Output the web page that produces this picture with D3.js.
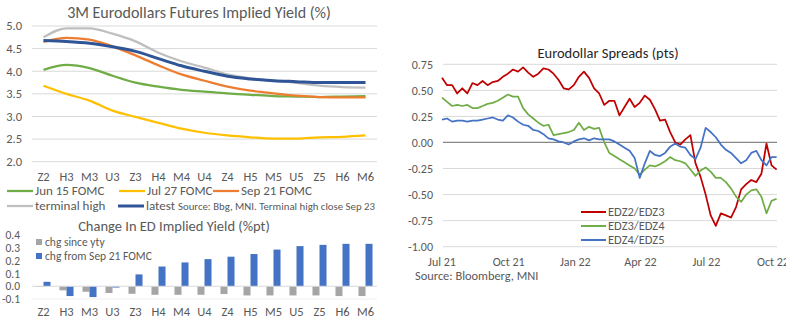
<!DOCTYPE html>
<html>
<head>
<meta charset="utf-8">
<script src="https://cdn.jsdelivr.net/npm/d3@7"></script>
<style>
  body { margin: 0; background: #fff; }
  svg text { font-family: Carlito, Lato, "Open Sans", sans-serif; }
</style>
</head>
<body>
<svg id="chart" width="786" height="323"></svg>
<script>
// contracts on the strip
const contracts = ['Z2', 'H3', 'M3', 'U3', 'Z3', 'H4', 'M4', 'U4', 'Z4', 'H5', 'M5', 'U5', 'Z5', 'H6', 'M6'];

// implied yields (%)
const jun15 = [4.03, 4.14, 4.07, 3.90, 3.75, 3.66, 3.59, 3.55, 3.51, 3.48, 3.45, 3.44, 3.43, 3.44, 3.45];
const jul27 = [3.68, 3.50, 3.35, 3.13, 2.99, 2.86, 2.73, 2.64, 2.58, 2.54, 2.51, 2.51, 2.54, 2.55, 2.58];
const sep21 = [4.65, 4.74, 4.70, 4.55, 4.35, 4.13, 3.93, 3.79, 3.66, 3.57, 3.51, 3.46, 3.43, 3.42, 3.42];
const termHigh = [4.75, 4.95, 4.95, 4.83, 4.66, 4.41, 4.22, 4.08, 3.93, 3.84, 3.79, 3.74, 3.68, 3.65, 3.64];
const latest = [4.68, 4.66, 4.62, 4.54, 4.44, 4.28, 4.12, 4.00, 3.89, 3.83, 3.79, 3.77, 3.75, 3.75, 3.75];
const yieldTicks = [2.0, 2.5, 3.0, 3.5, 4.0, 4.5, 5.0];

// changes (%pt)
const chgYty = [-0.005, -0.032, -0.043, -0.053, -0.059, -0.067, -0.067, -0.067, -0.061, -0.072, -0.072, -0.072, -0.072, -0.077, -0.077];
const chgFomc = [0.035, -0.077, -0.085, -0.010, 0.093, 0.155, 0.187, 0.213, 0.232, 0.253, 0.288, 0.315, 0.325, 0.333, 0.333];
const chgTicks = [-0.1, 0.0, 0.1, 0.2, 0.3, 0.4];

// weekly spread closes (pts), first week Jul 1 2021
const spreadStart = new Date(2021, 6, 1);
const edz2z3 = [
  0.62, 0.55, 0.55, 0.47, 0.52, 0.47, 0.57, 0.55, 0.59, 0.55,
  0.58, 0.59, 0.63, 0.66, 0.70, 0.68, 0.72, 0.67, 0.63, 0.66,
  0.71, 0.70, 0.66, 0.60, 0.52, 0.51, 0.55, 0.63, 0.68, 0.62,
  0.52, 0.47, 0.36, 0.40, 0.40, 0.26, 0.34, 0.42, 0.34, 0.38,
  0.45, 0.41, 0.32, 0.21, 0.22, 0.10, 0.00, -0.02, 0.03, 0.07,
  -0.20, -0.33, -0.50, -0.70, -0.80, -0.68, -0.70, -0.72, -0.62, -0.45,
  -0.40, -0.36, -0.38, -0.30, -0.01, -0.22, -0.26];
const edz3z4 = [
  0.43, 0.39, 0.35, 0.36, 0.35, 0.36, 0.33, 0.33, 0.35, 0.37,
  0.38, 0.40, 0.43, 0.46, 0.44, 0.44, 0.33, 0.27, 0.23, 0.19,
  0.16, 0.17, 0.07, 0.08, 0.09, 0.10, 0.12, 0.19, 0.12, 0.15,
  0.13, 0.14, 0.00, -0.10, -0.13, -0.16, -0.19, -0.22, -0.25, -0.31,
  -0.26, -0.22, -0.23, -0.21, -0.18, -0.14, -0.17, -0.18, -0.20, -0.26,
  -0.32, -0.27, -0.24, -0.28, -0.34, -0.34, -0.38, -0.44, -0.52, -0.57,
  -0.50, -0.46, -0.45, -0.52, -0.68, -0.56, -0.54];
const edz4z5 = [
  0.22, 0.23, 0.20, 0.21, 0.21, 0.20, 0.21, 0.21, 0.22, 0.23,
  0.24, 0.22, 0.21, 0.26, 0.24, 0.20, 0.17, 0.16, 0.12, 0.11,
  0.08, 0.04, 0.03, 0.01, 0.00, -0.02, 0.01, 0.03, 0.04, 0.02,
  0.04, 0.03, 0.03, 0.03, 0.01, -0.02, -0.05, -0.08, -0.15, -0.34,
  -0.20, -0.08, -0.12, -0.13, -0.10, -0.04, -0.01, -0.04, -0.05, -0.12,
  -0.16, -0.05, 0.14, 0.10, 0.05, -0.02, -0.07, -0.10, -0.15, -0.20,
  -0.17, -0.10, -0.08, -0.17, -0.22, -0.14, -0.14];
const spreadTicks = [-1.0, -0.75, -0.5, -0.25, 0, 0.25, 0.5, 0.75];
const monthTicks = [new Date(2021, 6, 1), new Date(2021, 9, 1), new Date(2022, 0, 1),
                    new Date(2022, 3, 1), new Date(2022, 6, 1), new Date(2022, 9, 1)];

const svg = d3.select('#chart');
const grey = '#595959';
const grid = '#d9d9d9';
const hyphen = f => v => f(v).replace('−', '-');

// ---------- top left: implied yield curves ----------
const x1 = d3.scalePoint().domain(contracts).range([32, 377]).padding(0.5);
const y1 = d3.scaleLinear().domain([2, 5]).range([161.7, 26]);

svg.append('text').attr('x', 199).attr('y', 18).attr('text-anchor', 'middle')
  .attr('font-size', 16).attr('fill', grey).text('3M Eurodollars Futures Implied Yield (%)');

const g1 = svg.append('g');
g1.selectAll('line.grid').data(yieldTicks).join('line')
  .attr('x1', 32).attr('x2', 377)
  .attr('y1', d => y1(d)).attr('y2', d => y1(d))
  .attr('stroke', grid).attr('stroke-width', 1);
g1.selectAll('text.ytick').data(yieldTicks).join('text')
  .attr('x', 22).attr('y', d => y1(d)).attr('dy', '0.35em')
  .attr('text-anchor', 'end').attr('font-size', 12.5).attr('fill', grey)
  .text(d3.format('.1f'));
g1.selectAll('text.xtick').data(contracts).join('text')
  .attr('x', d => x1(d)).attr('y', 181).attr('text-anchor', 'middle')
  .attr('font-size', 12.5).attr('fill', grey).text(d => d);

const curves = [
  { name: 'Jun 15 FOMC', values: jun15, color: '#70ad47', width: 2.25, lx: 7, row: 0 },
  { name: 'Jul 27 FOMC', values: jul27, color: '#ffc000', width: 2.25, lx: 119, row: 0 },
  { name: 'Sep 21 FOMC', values: sep21, color: '#ed7d31', width: 2.25, lx: 213, row: 0 },
  { name: 'terminal high', values: termHigh, color: '#bfbfbf', width: 2.25, lx: 7, row: 1 },
  { name: 'latest', values: latest, color: '#2f5597', width: 3, lx: 118, row: 1 }
];
const line1 = d3.line()
  .x((d, i) => x1(contracts[i]))
  .y(d => y1(d))
  .curve(d3.curveMonotoneX);
g1.selectAll('path.curve').data(curves).join('path')
  .attr('d', d => line1(d.values))
  .attr('fill', 'none').attr('stroke', d => d.color).attr('stroke-width', d => d.width);

const leg1 = g1.selectAll('g.leg').data(curves).join('g')
  .attr('transform', d => `translate(${d.lx},${195 + d.row * 15})`);
leg1.append('line').attr('x1', 0).attr('x2', 26).attr('y1', -4).attr('y2', -4)
  .attr('stroke', d => d.color).attr('stroke-width', d => d.width);
leg1.append('text').attr('x', 28).attr('font-size', 13).attr('fill', grey).text(d => d.name);

svg.append('text').attr('x', 178).attr('y', 210).attr('font-size', 10.8).attr('fill', grey)
  .text('Source: Bbg, MNI. Terminal high close Sep 23');

// ---------- bottom left: change bars ----------
const x2 = d3.scaleBand().domain(contracts).range([32, 377]).paddingInner(0.39).paddingOuter(0.195);
const sub = d3.scaleBand().domain(['yty', 'fomc']).range([0, x2.bandwidth()]);
const y2 = d3.scaleLinear().domain([-0.1, 0.4]).range([299, 235.3]);

svg.append('text').attr('x', 174).attr('y', 231).attr('text-anchor', 'middle')
  .attr('font-size', 14.5).attr('fill', grey).text('Change In ED Implied Yield (%pt)');

const g2 = svg.append('g');
g2.append('line').attr('x1', 32).attr('x2', 377).attr('y1', y2(-0.1)).attr('y2', y2(-0.1))
  .attr('stroke', '#efefef');
g2.selectAll('text.ytick').data(chgTicks).join('text')
  .attr('x', 20).attr('y', d => y2(d)).attr('dy', '0.35em')
  .attr('text-anchor', 'end').attr('font-size', 11.5).attr('fill', grey)
  .text(hyphen(d3.format('.1f')));

const barSeries = [
  { key: 'yty', name: 'chg since yty', values: chgYty, color: '#a5a5a5' },
  { key: 'fomc', name: 'chg from Sep 21 FOMC', values: chgFomc, color: '#4472c4' }
];
barSeries.forEach(s => {
  g2.selectAll(`rect.${s.key}`).data(s.values).join('rect')
    .attr('class', s.key)
    .attr('x', (d, i) => x2(contracts[i]) + sub(s.key))
    .attr('width', sub.bandwidth())
    .attr('y', d => y2(Math.max(0, d)))
    .attr('height', d => Math.abs(y2(d) - y2(0)))
    .attr('fill', s.color);
});
g2.append('line').attr('x1', 32).attr('x2', 377).attr('y1', y2(0)).attr('y2', y2(0))
  .attr('stroke', grid);
g2.selectAll('text.xtick').data(contracts).join('text')
  .attr('x', d => x2(d) + x2.bandwidth() / 2).attr('y', 316).attr('text-anchor', 'middle')
  .attr('font-size', 12.5).attr('fill', grey).text(d => d);

const leg2 = g2.selectAll('g.leg').data(barSeries).join('g')
  .attr('transform', (d, i) => `translate(36,${246 + i * 14})`);
leg2.append('rect').attr('x', 0).attr('y', -7).attr('width', 6).attr('height', 6)
  .attr('fill', d => d.color);
leg2.append('text').attr('x', 9).attr('font-size', 11.5).attr('fill', grey).text(d => d.name);

// ---------- right: eurodollar spreads ----------
const x3 = d3.scaleTime().domain([monthTicks[0], monthTicks[5]]).range([442, 773]);
const y3 = d3.scaleLinear().domain([-1, 0.75]).range([246.7, 64.3]);
const spreadDates = edz2z3.map((_, i) => d3.timeWeek.offset(spreadStart, i));

svg.append('text').attr('x', 608).attr('y', 58).attr('text-anchor', 'middle')
  .attr('font-size', 14.5).attr('fill', '#262626').text('Eurodollar Spreads (pts)');

const g3 = svg.append('g');
g3.selectAll('line.grid').data(spreadTicks).join('line')
  .attr('x1', 443).attr('x2', 777)
  .attr('y1', d => y3(d)).attr('y2', d => y3(d))
  .attr('stroke', d => d === 0 ? '#868686' : grid)
  .attr('stroke-width', d => d === 0 ? 1.25 : 1);
g3.selectAll('text.ytick').data(spreadTicks).join('text')
  .attr('x', 433).attr('y', d => y3(d)).attr('dy', '0.35em')
  .attr('text-anchor', 'end').attr('font-size', 12).attr('fill', grey)
  .text(hyphen(d3.format('.2f')));
g3.selectAll('text.xtick').data(monthTicks).join('text')
  .attr('x', d => x3(d)).attr('y', 266).attr('text-anchor', 'middle')
  .attr('font-size', 12).attr('fill', grey).text(d3.timeFormat('%b %y'));

const spreads = [
  { name: 'EDZ2/EDZ3', values: edz2z3, color: '#c00000' },
  { name: 'EDZ3/EDZ4', values: edz3z4, color: '#70ad47' },
  { name: 'EDZ4/EDZ5', values: edz4z5, color: '#4472c4' }
];
const line3 = d3.line()
  .x((d, i) => x3(spreadDates[i]))
  .y(d => y3(d));
g3.selectAll('path.spread').data(spreads).join('path')
  .attr('d', d => line3(d.values))
  .attr('fill', 'none').attr('stroke', d => d.color)
  .attr('stroke-width', 1.75).attr('stroke-linejoin', 'round');

const leg3 = g3.selectAll('g.leg').data(spreads).join('g')
  .attr('transform', (d, i) => `translate(581,${216 + i * 14})`);
leg3.append('line').attr('x1', 0).attr('x2', 25).attr('y1', -4).attr('y2', -4)
  .attr('stroke', d => d.color).attr('stroke-width', 2);
leg3.append('text').attr('x', 27).attr('font-size', 12.5).attr('fill', grey).text(d => d.name);

svg.append('text').attr('x', 415).attr('y', 280).attr('font-size', 12.4).attr('fill', grey)
  .text('Source: Bloomberg, MNI');
</script>
</body>
</html>
